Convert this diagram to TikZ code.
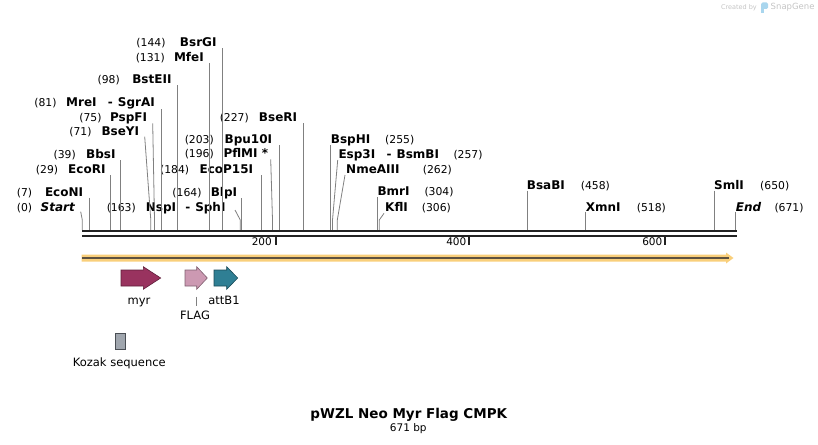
\documentclass[tikz,border=0pt]{standalone}
\usepackage{fontspec}
\setmainfont{DejaVu Sans}
\usetikzlibrary{arrows.meta}
\definecolor{bb}{HTML}{222222}
\definecolor{cutgray}{HTML}{808080}
\definecolor{orfill}{HTML}{F9CF7B}
\definecolor{orline}{HTML}{5E5240}
\definecolor{myrF}{HTML}{99335F}
\definecolor{myrD}{HTML}{5E1F3A}
\definecolor{flagF}{HTML}{CC99B2}
\definecolor{flagD}{HTML}{7F5F6F}
\definecolor{attF}{HTML}{2F7F94}
\definecolor{attD}{HTML}{1B4B58}
\definecolor{kozF}{HTML}{A0A6AE}
\definecolor{kozD}{HTML}{4A4E54}
\definecolor{wmgray}{HTML}{C4C4C4}
\definecolor{wmblue}{HTML}{A9D6EE}
\newcommand\leftlab[6]{%
  \node[numtxt, anchor=base east] (n#1) at (#3,#6+4.4) {(#2)};
  \node[nametxt, anchor=base east] (l#1) at (#5,#6+4.4) {#4};}
\newcommand\rightlab[6]{%
  \node[nametxt, anchor=base west] (l#1) at (#3,#6+4.4) {#2};
  \node[numtxt, anchor=base west] (n#1) at (#5,#6+4.4) {(#4)};}
% pair label: id, first name, its left x, second name, its right x, y
\newcommand\pairlab[6]{%
  \node[nametxt, anchor=base west] (a#1) at (#3,#6+4.4) {#2};
  \node[nametxt, anchor=base east] (b#1) at (#5,#6+4.4) {-\hspace{5pt}#4};}
\newcommand\cutv[3]{%
  \coordinate (t#1) at (#2,#3);
  \coordinate (s#1) at (#2,230);
  \draw[cut] (t#1) -- (s#1);}
\newcommand\cutb[4]{%
  \coordinate (t#1) at (#2,#3);
  \coordinate (k#1) at (#4,220);
  \coordinate (s#1) at (#4,230);
  \draw[cut] (t#1) -- (k#1) -- (s#1);}
\begin{document}
\begin{tikzpicture}[x=1pt,y=-1pt,
  nametxt/.style={inner sep=0pt, font=\fontsize{12}{14}\selectfont\bfseries},
  numtxt/.style={inner sep=0pt, font=\fontsize{10.8}{12}\selectfont},
  ticktxt/.style={inner sep=0pt, font=\fontsize{10.5}{12}\selectfont},
  feattxt/.style={inner sep=0pt, font=\fontsize{11.5}{13}\selectfont},
  cut/.style={draw=cutgray, line width=0.8pt},
  bbline/.style={draw=bb, line width=2.4pt},
  tickmark/.style={draw=bb, line width=1.8pt}]
\useasboundingbox (0,0) rectangle (818,444);

% watermark
\node[inner sep=0pt, anchor=base east, text=wmgray, font=\fontsize{6.5}{8}\selectfont] (wm1) at (757,10) {Created by};
\fill[wmblue, rounded corners=1.5pt] (761,2.5) rectangle (768,9);
\fill[wmblue] (761,6) rectangle (763.5,13);
\node[inner sep=0pt, anchor=base west, text=wmgray, font=\fontsize{8.5}{10}\selectfont] (wm2) at (770.5,10) {SnapGene};

% enzyme labels
\leftlab{BsrGI}{144}{165.7}{BsrGI}{216.7}{42.3}
\leftlab{MfeI}{131}{165}{MfeI}{204}{56.7}
\leftlab{BstEII}{98}{120}{BstEII}{171.7}{79.3}
\node[numtxt, anchor=base east] (nMreI) at (56.7,106.1) {(81)};
\pairlab{MreI}{MreI}{66}{SgrAI}{155}{101.7}
\leftlab{PspFI}{75}{101.7}{PspFI}{147.3}{117.3}
\leftlab{BseYI}{71}{91.7}{BseYI}{139.3}{130.7}
\leftlab{BbsI}{39}{76}{BbsI}{115.7}{154}
\leftlab{EcoRI}{29}{58.3}{EcoRI}{105.7}{169.3}
\leftlab{EcoNI}{7}{32.3}{EcoNI}{83.3}{191.7}
\leftlab{Start}{0}{32.3}{\itshape Start}{75}{206.7}
\node[numtxt, anchor=base east] (nNspI) at (136,211.1) {(163)};
\pairlab{NspI}{NspI}{145.7}{SphI}{225.7}{206.7}
\leftlab{BseRI}{227}{249}{BseRI}{297.3}{116.7}
\leftlab{Bpu10I}{203}{214}{Bpu10I}{272.3}{139}
\leftlab{PflMI}{196}{214}{PflMI *}{268.3}{153.3}
\leftlab{EcoP15I}{184}{189.3}{EcoP15I}{253.3}{169}
\leftlab{BlpI}{164}{201.7}{BlpI}{237.3}{191.7}
\rightlab{BspHI}{BspHI}{330.7}{255}{385}{139}
\pairlab{Esp3I}{Esp3I}{338.3}{BsmBI}{439.3}{154}
\node[numtxt, anchor=base west] (nEsp3I) at (453.3,158.4) {(257)};
\rightlab{NmeAIII}{NmeAIII}{346}{262}{422.7}{169.3}
\rightlab{BmrI}{BmrI}{377.3}{304}{424.3}{191}
\rightlab{KflI}{KflI}{385}{306}{421.7}{207.3}
\rightlab{BsaBI}{BsaBI}{526.7}{458}{580.7}{185}
\rightlab{XmnI}{XmnI}{585.7}{518}{636.7}{206.7}
\rightlab{SmlI}{SmlI}{714}{650}{760}{185}
\rightlab{End}{\itshape End}{735.7}{671}{774.3}{206.7}

% cut-site connectors
\cutv{BsrGI}{222.3}{48.3}
\cutv{MfeI}{209.3}{63.3}
\cutv{BstEII}{177.3}{85}
\cutv{MreI}{161.3}{109}
\cutb{PspFI}{152.7}{123.3}{154.5}
\cutb{BseYI}{144.7}{136.7}{150.8}
\cutv{BbsI}{120.3}{160}
\cutv{EcoRI}{110.3}{175}
\cutv{EcoNI}{89.3}{197.5}
\cutb{Start}{80.7}{211.7}{82.3}
\cutb{NspI}{235}{210}{240.3}
\cutv{BseRI}{303.3}{123.3}
\cutv{Bpu10I}{279.3}{145}
\cutb{PflMI}{270.7}{159.3}{272.5}
\cutv{EcoP15I}{261.3}{175}
\cutv{BlpI}{241.5}{198.3}
\cutv{BspHI}{330.7}{145}
\cutb{Esp3I}{337.7}{160}{332.5}
\cutb{NmeAIII}{345}{175}{337.3}
\cutv{BmrI}{377.3}{197.3}
\cutb{KflI}{384}{213.3}{379.3}
\cutv{BsaBI}{527.7}{190.7}
\cutv{XmnI}{585.7}{211.7}
\cutv{SmlI}{714.3}{190.7}
\cutv{End}{735.7}{211.7}

% backbone
\coordinate (bbL1) at (82,231);
\coordinate (bbR1) at (736.5,231);
\coordinate (bbL2) at (82,236.2);
\coordinate (bbR2) at (736.5,236.2);
\draw[bbline] (bbL1) -- (bbR1);
\draw[bbline] (bbL2) -- (bbR2);

% ticks
\draw[tickmark] (275.7,237) -- (275.7,244.5);
\draw[tickmark] (469.3,237) -- (469.3,244.5);
\draw[tickmark] (664.7,237) -- (664.7,244.5);
\node[ticktxt, anchor=base east] (t200) at (272,245.3) {200};
\node[ticktxt, anchor=base east] (t400) at (466.5,245.3) {400};
\node[ticktxt, anchor=base east] (t600) at (662.5,245.3) {600};

% orange ORF arrow
\fill[orfill] (81.5,254.5) -- (726,254.5) -- (726,252.5) -- (733.5,258) -- (726,263.5) -- (726,261.5) -- (81.5,261.5) -- cycle;
\draw[orline, line width=1.6pt] (82,258) -- (729,258);

% features
\draw[draw=myrD, fill=myrF, line width=0.6pt] (121,270) -- (143.3,270) -- (143.3,266.7) -- (160.7,278) -- (143.3,289.3) -- (143.3,286) -- (121,286) -- cycle;
\draw[draw=flagD, fill=flagF, line width=0.6pt] (185,270) -- (196.7,270) -- (196.7,266.7) -- (207.3,278) -- (196.7,289.3) -- (196.7,286) -- (185,286) -- cycle;
\draw[draw=attD, fill=attF, line width=0.6pt] (214,270) -- (226.7,270) -- (226.7,266.7) -- (237.7,278) -- (226.7,289.3) -- (226.7,286) -- (214,286) -- cycle;
\draw[draw=kozD, fill=kozF, line width=0.6pt] (115,333.3) rectangle (125.7,349.3);

\node[feattxt, anchor=base] (lmyr) at (139,304) {myr};
\node[feattxt, anchor=base] (latt) at (224,304) {attB1};
\node[feattxt, anchor=base] (lflag) at (195,319.3) {FLAG};
\coordinate (flagT) at (196.5,296.5);
\coordinate (flagB) at (196.5,306);
\draw[cut] (flagT) -- (flagB);
\node[feattxt, anchor=base] (lkoz) at (119.3,366.7) {Kozak sequence};

% title
\node[inner sep=0pt, anchor=base, font=\fontsize{13.5}{15}\selectfont\bfseries] (title) at (408.8,418.5) {pWZL Neo Myr Flag CMPK};
\node[inner sep=0pt, anchor=base, font=\fontsize{10.5}{12}\selectfont] (size) at (408.3,431.2) {671 bp};
\end{tikzpicture}
\end{document}
